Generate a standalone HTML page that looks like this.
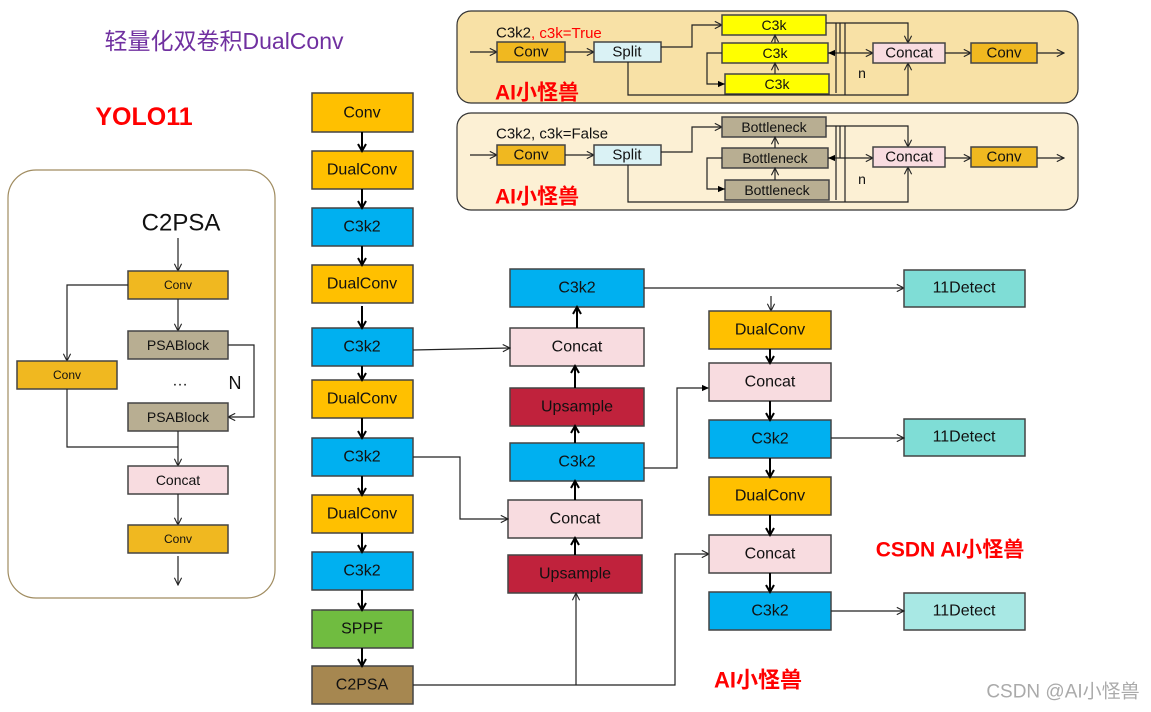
<!DOCTYPE html>
<html><head><meta charset="utf-8"><style>
html,body{margin:0;padding:0;background:#fff;}
svg{display:block;font-family:"Liberation Sans","Noto Sans CJK SC",sans-serif;}
</style></head><body>
<svg width="1151" height="712" viewBox="0 0 1151 712" xmlns="http://www.w3.org/2000/svg">
<defs>
<marker id="o" viewBox="0 0 10 10" refX="9" refY="5" markerWidth="9" markerHeight="9" orient="auto-start-reverse" markerUnits="userSpaceOnUse"><path d="M1,1 L9,5 L1,9" fill="none" stroke="#222" stroke-width="1.2"/></marker>
<marker id="b" viewBox="0 0 10 10" refX="8" refY="5" markerWidth="10" markerHeight="10" orient="auto-start-reverse" markerUnits="userSpaceOnUse"><path d="M1,1 L8,5 L1,9" fill="none" stroke="#000" stroke-width="2"/></marker>
<marker id="f" viewBox="0 0 10 10" refX="9" refY="5" markerWidth="8" markerHeight="8" orient="auto" markerUnits="userSpaceOnUse"><path d="M0,1 L9,5 L0,9z" fill="#000"/></marker>
</defs>
<style>
text{font-size:16px;text-anchor:middle;dominant-baseline:central;fill:#111;}
.bx{stroke:#444;stroke-width:1.5;}
.ln{stroke:#222;stroke-width:1.2;fill:none;}
.bl{stroke:#000;stroke-width:2;fill:none;}
.red{fill:#f00;font-weight:bold;}
</style>

<text x="224" y="41" style="font-size:23px;fill:#7030A0">轻量化双卷积DualConv</text>
<text x="144" y="117" class="red" style="font-size:25px">YOLO11</text>
<text x="950" y="550" class="red" style="font-size:21px">CSDN AI小怪兽</text>
<text x="758" y="680" class="red" style="font-size:22px">AI小怪兽</text>
<text x="1063" y="692" style="font-size:19px;fill:#aaa">CSDN @AI小怪兽</text>

<rect x="457" y="11" width="621" height="92" rx="14" fill="#F8E1A6" stroke="#333" stroke-width="1.2"/>
<text x="496" y="33" style="font-size:15px;text-anchor:start">C3k2<tspan fill="#f00">, c3k=True</tspan></text>
<text x="537" y="93" class="red" style="font-size:21px">AI小怪兽</text>
<line x1="470" y1="52" x2="497" y2="52" class="ln" marker-end="url(#o)"/>
<rect x="497" y="42" width="68" height="20" fill="#F0B820" class="bx"/><text x="531" y="52" style="font-size:15px">Conv</text>
<line x1="565" y1="52" x2="594" y2="52" class="ln" marker-end="url(#o)"/>
<rect x="594" y="42" width="67" height="20" fill="#DAF2F5" class="bx"/><text x="627" y="52" style="font-size:15px">Split</text>
<polyline points="661,47 692,47 692,25 722,25" class="ln" marker-end="url(#o)"/>
<rect x="722" y="15" width="104" height="20" fill="#FFFF00" class="bx"/><text x="774" y="25" style="font-size:14px">C3k</text>
<rect x="722" y="43" width="106" height="20" fill="#FFFF00" class="bx"/><text x="775" y="53" style="font-size:14px">C3k</text>
<rect x="725" y="74" width="104" height="20" fill="#FFFF00" class="bx"/><text x="777" y="84" style="font-size:14px">C3k</text>
<line x1="775" y1="74" x2="775" y2="63" class="ln" marker-end="url(#o)"/>
<line x1="775" y1="43" x2="775" y2="35" class="ln" marker-end="url(#o)"/>
<polyline points="722,53 707,53 707,84 725,84" class="ln" marker-end="url(#f)"/>
<polyline points="826,23 908,23 908,43" class="ln" marker-end="url(#o)"/>
<line x1="836" y1="23" x2="836" y2="93" class="ln"/><line x1="840" y1="23" x2="840" y2="53" class="ln"/>
<line x1="845" y1="23" x2="845" y2="95" class="ln"/>
<line x1="845" y1="53" x2="828" y2="53" class="ln" marker-end="url(#f)"/>
<line x1="845" y1="53" x2="873" y2="53" class="ln" marker-end="url(#o)"/>
<polyline points="628,62 628,95 908,95 908,63" class="ln" marker-end="url(#o)"/>
<text x="862" y="73" style="font-size:14px">n</text>
<rect x="873" y="43" width="72" height="20" fill="#F8DCE0" class="bx"/><text x="909" y="53" style="font-size:15px">Concat</text>
<line x1="945" y1="53" x2="971" y2="53" class="ln" marker-end="url(#o)"/>
<rect x="971" y="43" width="66" height="20" fill="#F0B820" class="bx"/><text x="1004" y="53" style="font-size:15px">Conv</text>
<line x1="1037" y1="53" x2="1064" y2="53" class="ln" marker-end="url(#o)"/>

<rect x="457" y="113" width="621" height="97" rx="14" fill="#FCF0D4" stroke="#333" stroke-width="1.2"/>
<text x="496" y="134" style="font-size:15px;text-anchor:start">C3k2, c3k=False</text>
<text x="537" y="197" class="red" style="font-size:21px">AI小怪兽</text>
<line x1="470" y1="155" x2="497" y2="155" class="ln" marker-end="url(#o)"/>
<rect x="497" y="145" width="68" height="20" fill="#F0B820" class="bx"/><text x="531" y="155" style="font-size:15px">Conv</text>
<line x1="565" y1="155" x2="594" y2="155" class="ln" marker-end="url(#o)"/>
<rect x="594" y="145" width="67" height="20" fill="#DAF2F5" class="bx"/><text x="627" y="155" style="font-size:15px">Split</text>
<polyline points="661,152 692,152 692,127 722,127" class="ln" marker-end="url(#o)"/>
<rect x="722" y="117" width="104" height="20" fill="#B8AE92" class="bx"/><text x="774" y="127" style="font-size:14px">Bottleneck</text>
<rect x="722" y="148" width="106" height="20" fill="#B8AE92" class="bx"/><text x="775" y="158" style="font-size:14px">Bottleneck</text>
<rect x="725" y="180" width="104" height="20" fill="#B8AE92" class="bx"/><text x="777" y="190" style="font-size:14px">Bottleneck</text>
<line x1="775" y1="180" x2="775" y2="168" class="ln" marker-end="url(#o)"/>
<line x1="775" y1="148" x2="775" y2="137" class="ln" marker-end="url(#o)"/>
<polyline points="722,158 707,158 707,189 725,189" class="ln" marker-end="url(#f)"/>
<polyline points="826,126 908,126 908,147" class="ln" marker-end="url(#o)"/>
<line x1="836" y1="126" x2="836" y2="200" class="ln"/><line x1="840" y1="126" x2="840" y2="158" class="ln"/>
<line x1="845" y1="126" x2="845" y2="202" class="ln"/>
<line x1="845" y1="158" x2="828" y2="158" class="ln" marker-end="url(#f)"/>
<line x1="845" y1="158" x2="873" y2="158" class="ln" marker-end="url(#o)"/>
<polyline points="628,165 628,202 908,202 908,167" class="ln" marker-end="url(#o)"/>
<text x="862" y="179" style="font-size:14px">n</text>
<rect x="873" y="147" width="72" height="20" fill="#F8DCE0" class="bx"/><text x="909" y="157" style="font-size:15px">Concat</text>
<line x1="945" y1="158" x2="971" y2="158" class="ln" marker-end="url(#o)"/>
<rect x="971" y="147" width="66" height="20" fill="#F0B820" class="bx"/><text x="1004" y="157" style="font-size:15px">Conv</text>
<line x1="1037" y1="158" x2="1064" y2="158" class="ln" marker-end="url(#o)"/>

<rect x="8" y="170" width="267" height="428" rx="28" fill="#fff" stroke="#A08C60" stroke-width="1.2"/>
<text x="181" y="223" style="font-size:24px">C2PSA</text>
<line x1="178" y1="238" x2="178" y2="271" class="ln" marker-end="url(#o)"/>
<rect x="128" y="271" width="100" height="28" fill="#F0B820" class="bx"/><text x="178" y="285" style="font-size:12px">Conv</text>
<line x1="178" y1="299" x2="178" y2="331" class="ln" marker-end="url(#o)"/>
<polyline points="128,285 67,285 67,361" class="ln" marker-end="url(#o)"/>
<rect x="128" y="331" width="100" height="28" fill="#B8AE92" class="bx"/><text x="178" y="345" style="font-size:14px">PSABlock</text>
<rect x="17" y="361" width="100" height="28" fill="#F0B820" class="bx"/><text x="67" y="375" style="font-size:12px">Conv</text>
<text x="180" y="381" style="font-size:16px">…</text>
<text x="235" y="383" style="font-size:18px">N</text>
<polyline points="228,345 254,345 254,417 228,417" class="ln" marker-end="url(#o)"/>
<rect x="128" y="403" width="100" height="28" fill="#B8AE92" class="bx"/><text x="178" y="417" style="font-size:14px">PSABlock</text>
<polyline points="67,389 67,447 178,447" class="ln"/>
<line x1="178" y1="431" x2="178" y2="466" class="ln" marker-end="url(#o)"/>
<rect x="128" y="466" width="100" height="28" fill="#F8DCE0" class="bx"/><text x="178" y="480" style="font-size:14px">Concat</text>
<line x1="178" y1="494" x2="178" y2="525" class="ln" marker-end="url(#o)"/>
<rect x="128" y="525" width="100" height="28" fill="#F0B820" class="bx"/><text x="178" y="539" style="font-size:12px">Conv</text>
<line x1="178" y1="556" x2="178" y2="585" class="ln" marker-end="url(#o)"/>

<g style="font-size:17px">
<rect x="312" y="93" width="101" height="39" fill="#FFC000" class="bx"/><text x="362" y="113">Conv</text>
<rect x="312" y="151" width="101" height="38" fill="#FFC000" class="bx"/><text x="362" y="170">DualConv</text>
<rect x="312" y="208" width="101" height="38" fill="#00B0F0" class="bx"/><text x="362" y="227">C3k2</text>
<rect x="312" y="265" width="101" height="38" fill="#FFC000" class="bx"/><text x="362" y="284">DualConv</text>
<rect x="312" y="328" width="101" height="38" fill="#00B0F0" class="bx"/><text x="362" y="347">C3k2</text>
<rect x="312" y="380" width="101" height="38" fill="#FFC000" class="bx"/><text x="362" y="399">DualConv</text>
<rect x="312" y="438" width="101" height="38" fill="#00B0F0" class="bx"/><text x="362" y="457">C3k2</text>
<rect x="312" y="495" width="101" height="38" fill="#FFC000" class="bx"/><text x="362" y="514">DualConv</text>
<rect x="312" y="552" width="101" height="38" fill="#00B0F0" class="bx"/><text x="362" y="571">C3k2</text>
<rect x="312" y="610" width="101" height="38" fill="#70BC40" class="bx"/><text x="362" y="629">SPPF</text>
<rect x="312" y="666" width="101" height="38" fill="#A68750" class="bx"/><text x="362" y="685">C2PSA</text>
</g>
<line x1="362" y1="132" x2="362" y2="151" class="bl" marker-end="url(#b)"/>
<line x1="362" y1="189" x2="362" y2="208" class="bl" marker-end="url(#b)"/>
<line x1="362" y1="246" x2="362" y2="265" class="bl" marker-end="url(#b)"/>
<line x1="362" y1="306" x2="362" y2="328" class="bl" marker-end="url(#b)"/>
<line x1="362" y1="366" x2="362" y2="380" class="bl" marker-end="url(#b)"/>
<line x1="362" y1="418" x2="362" y2="438" class="bl" marker-end="url(#b)"/>
<line x1="362" y1="476" x2="362" y2="495" class="bl" marker-end="url(#b)"/>
<line x1="362" y1="533" x2="362" y2="552" class="bl" marker-end="url(#b)"/>
<line x1="362" y1="590" x2="362" y2="610" class="bl" marker-end="url(#b)"/>
<line x1="362" y1="648" x2="362" y2="666" class="bl" marker-end="url(#b)"/>

<g style="font-size:17px">
<rect x="510" y="269" width="134" height="38" fill="#00B0F0" class="bx"/><text x="577" y="288">C3k2</text>
<rect x="510" y="328" width="134" height="38" fill="#F8DCE0" class="bx"/><text x="577" y="347">Concat</text>
<rect x="510" y="388" width="134" height="38" fill="#C0223C" class="bx"/><text x="577" y="407">Upsample</text>
<rect x="510" y="443" width="134" height="38" fill="#00B0F0" class="bx"/><text x="577" y="462">C3k2</text>
<rect x="508" y="500" width="134" height="38" fill="#F8DCE0" class="bx"/><text x="575" y="519">Concat</text>
<rect x="508" y="555" width="134" height="38" fill="#C0223C" class="bx"/><text x="575" y="574">Upsample</text>
</g>
<line x1="575" y1="555" x2="575" y2="538" class="bl" marker-end="url(#b)"/>
<line x1="575" y1="500" x2="575" y2="481" class="bl" marker-end="url(#b)"/>
<line x1="575" y1="443" x2="575" y2="426" class="bl" marker-end="url(#b)"/>
<line x1="575" y1="388" x2="575" y2="366" class="bl" marker-end="url(#b)"/>
<line x1="577" y1="328" x2="577" y2="307" class="bl" marker-end="url(#b)"/>
<polyline points="413,350 510,348" class="ln" marker-end="url(#o)"/>
<polyline points="413,457 460,457 460,519 508,519" class="ln" marker-end="url(#o)"/>
<polyline points="413,685 675,685 675,554 709,554" class="ln" marker-end="url(#o)"/>
<line x1="576" y1="685" x2="576" y2="593" class="ln" marker-end="url(#o)"/>
<polyline points="644,468 677,468 677,388 709,388" class="ln" marker-end="url(#f)"/>
<line x1="644" y1="288" x2="904" y2="288" class="ln" marker-end="url(#o)"/>
<line x1="771" y1="296" x2="771" y2="311" class="ln" marker-end="url(#o)"/>

<g style="font-size:17px">
<rect x="709" y="311" width="122" height="38" fill="#FFC000" class="bx"/><text x="770" y="330">DualConv</text>
<rect x="709" y="363" width="122" height="38" fill="#F8DCE0" class="bx"/><text x="770" y="382">Concat</text>
<rect x="709" y="420" width="122" height="38" fill="#00B0F0" class="bx"/><text x="770" y="439">C3k2</text>
<rect x="709" y="477" width="122" height="38" fill="#FFC000" class="bx"/><text x="770" y="496">DualConv</text>
<rect x="709" y="535" width="122" height="38" fill="#F8DCE0" class="bx"/><text x="770" y="554">Concat</text>
<rect x="709" y="592" width="122" height="38" fill="#00B0F0" class="bx"/><text x="770" y="611">C3k2</text>
<rect x="904" y="270" width="121" height="37" fill="#7FDDD6" class="bx"/><text x="964" y="288">11Detect</text>
<rect x="904" y="419" width="121" height="37" fill="#7FDDD6" class="bx"/><text x="964" y="437">11Detect</text>
<rect x="904" y="593" width="121" height="37" fill="#A8E8E4" class="bx"/><text x="964" y="611">11Detect</text>
</g>
<line x1="770" y1="349" x2="770" y2="363" class="bl" marker-end="url(#b)"/>
<line x1="770" y1="401" x2="770" y2="420" class="bl" marker-end="url(#b)"/>
<line x1="770" y1="458" x2="770" y2="477" class="bl" marker-end="url(#b)"/>
<line x1="770" y1="515" x2="770" y2="535" class="bl" marker-end="url(#b)"/>
<line x1="770" y1="573" x2="770" y2="592" class="bl" marker-end="url(#b)"/>
<line x1="831" y1="438" x2="904" y2="438" class="ln" marker-end="url(#o)"/>
<line x1="831" y1="611" x2="904" y2="611" class="ln" marker-end="url(#o)"/>
</svg>
</body></html>
